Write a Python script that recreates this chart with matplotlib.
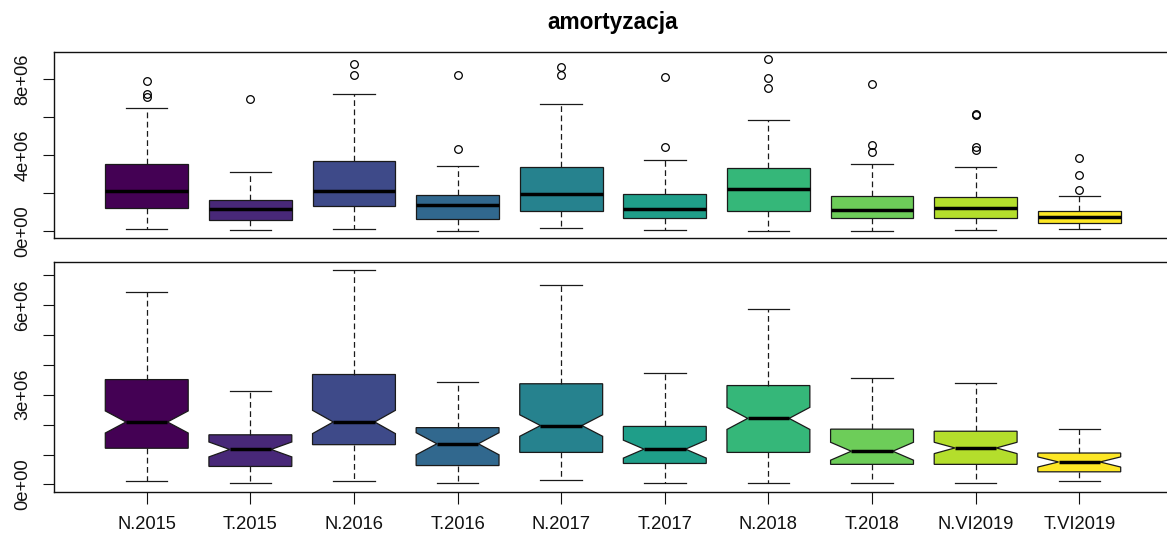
import matplotlib
matplotlib.use("Agg")
import matplotlib.pyplot as plt

plt.rcParams['font.family'] = ['Liberation Sans', 'DejaVu Sans']

groups = ["N.2015", "T.2015", "N.2016", "T.2016", "N.2017",
          "T.2017", "N.2018", "T.2018", "N.VI2019", "T.VI2019"]

# five-number stats, in millions
whis_lo = [0.12, 0.05, 0.12, 0.03, 0.15, 0.05, 0.03, 0.03, 0.05, 0.11]
q1      = [1.21, 0.60, 1.33, 0.63, 1.07, 0.70, 1.07, 0.67, 0.67, 0.42]
med     = [2.09, 1.17, 2.09, 1.36, 1.97, 1.18, 2.21, 1.11, 1.22, 0.75]
q3      = [3.51, 1.66, 3.68, 1.90, 3.37, 1.94, 3.31, 1.85, 1.78, 1.05]
whis_hi = [6.46, 3.12, 7.18, 3.43, 6.69, 3.73, 5.86, 3.55, 3.38, 1.85]
outliers = [[7.87, 7.23, 7.05],
            [6.95],
            [8.80, 8.19],
            [8.19, 4.30],
            [8.63, 8.21],
            [8.12, 4.43],
            [9.05, 8.07, 7.51],
            [7.75, 4.51, 4.15],
            [6.13, 6.10, 4.41, 4.29],
            [3.87, 2.94, 2.14]]
# notch half-height (median confidence interval)
notch_half = [0.37, 0.25, 0.39, 0.37, 0.36, 0.30, 0.37, 0.30, 0.19, 0.17]

colors = ["#440154", "#482878", "#3E4A89", "#31688E", "#26828E",
          "#1F9E89", "#35B779", "#6DCD59", "#B4DE2C", "#FDE725"]

top_ticks = [0, 2e6, 4e6, 6e6, 8e6]
top_labels = ["0e+00", "", "4e+06", "", "8e+06"]
bot_ticks = [0, 1e6, 2e6, 3e6, 4e6, 5e6, 6e6, 7e6]
bot_labels = ["0e+00", "", "", "3e+06", "", "", "6e+06", ""]

M = 1e6
stats_top = []
stats_bot = []
for i in range(len(groups)):
    d = dict(whislo=whis_lo[i] * M, q1=q1[i] * M, med=med[i] * M, q3=q3[i] * M,
             whishi=whis_hi[i] * M, fliers=[v * M for v in outliers[i]],
             cilo=(med[i] - notch_half[i]) * M, cihi=(med[i] + notch_half[i]) * M)
    stats_top.append(d)
    d2 = dict(d)
    d2["fliers"] = []
    stats_bot.append(d2)

W, H = 1167, 537
fig = plt.figure(figsize=(W / 100, H / 100), dpi=100)
# plot region runs a little past the right edge, as in the original
ax1 = fig.add_axes([53.5 / W, 1 - 237.5 / H, 1119 / W, 185.5 / H])
ax2 = fig.add_axes([53.5 / W, 1 - 492 / H, 1119 / W, 230.5 / H])

pos = list(range(1, len(groups) + 1))
edge = "#1a1a1a"
common = dict(positions=pos, widths=0.8, patch_artist=True, manage_ticks=False,
              boxprops=dict(edgecolor=edge, linewidth=0.9),
              whiskerprops=dict(color=edge, linewidth=0.9, linestyle=(0, (4.6, 2.8))),
              capprops=dict(color=edge, linewidth=0.9),
              medianprops=dict(color="black", linewidth=2.5, solid_capstyle="butt"),
              flierprops=dict(marker="o", markerfacecolor="none", markeredgecolor="black",
                              markersize=5.5, markeredgewidth=0.9))

b1 = ax1.bxp(stats_top, **common)
b2 = ax2.bxp(stats_bot, shownotches=True, **common)
for b in (b1, b2):
    for patch, c in zip(b["boxes"], colors):
        patch.set_facecolor(c)


def r_lim(lo, hi):
    r = hi - lo
    return lo - 0.04 * r, hi + 0.04 * r


top_all = whis_lo + whis_hi + [v for o in outliers for v in o]
ax1.set_ylim(*[v * M for v in r_lim(min(top_all), max(top_all))])
ax2.set_ylim(*[v * M for v in r_lim(min(whis_lo), max(whis_hi))])

for ax in (ax1, ax2):
    ax.set_xlim(0.1, len(groups) + 0.9)
    for s in ax.spines.values():
        s.set_linewidth(1.0)
        s.set_color("#111111")
    ax.tick_params(axis="y", direction="out", length=8, width=0.8,
                   labelsize=13.2, pad=8, colors="#111111")

ax1.set_yticks(top_ticks)
ax1.set_yticklabels(top_labels, rotation=90, va="center")
ax1.set_xticks([])
ax2.set_yticks(bot_ticks)
ax2.set_yticklabels(bot_labels, rotation=90, va="center")
ax2.set_xticks(pos)
ax2.set_xticklabels(groups)
ax2.tick_params(axis="x", direction="out", length=8.3, width=0.8,
                labelsize=13.2, pad=9.3, colors="#111111")

fig.text((53.5 + 1172.5) / 2 / W, 1 - 22 / H, "amortyzacja", ha="center", va="center",
         fontsize=16.3, fontweight="bold")

fig.savefig("out.png", dpi=100)
